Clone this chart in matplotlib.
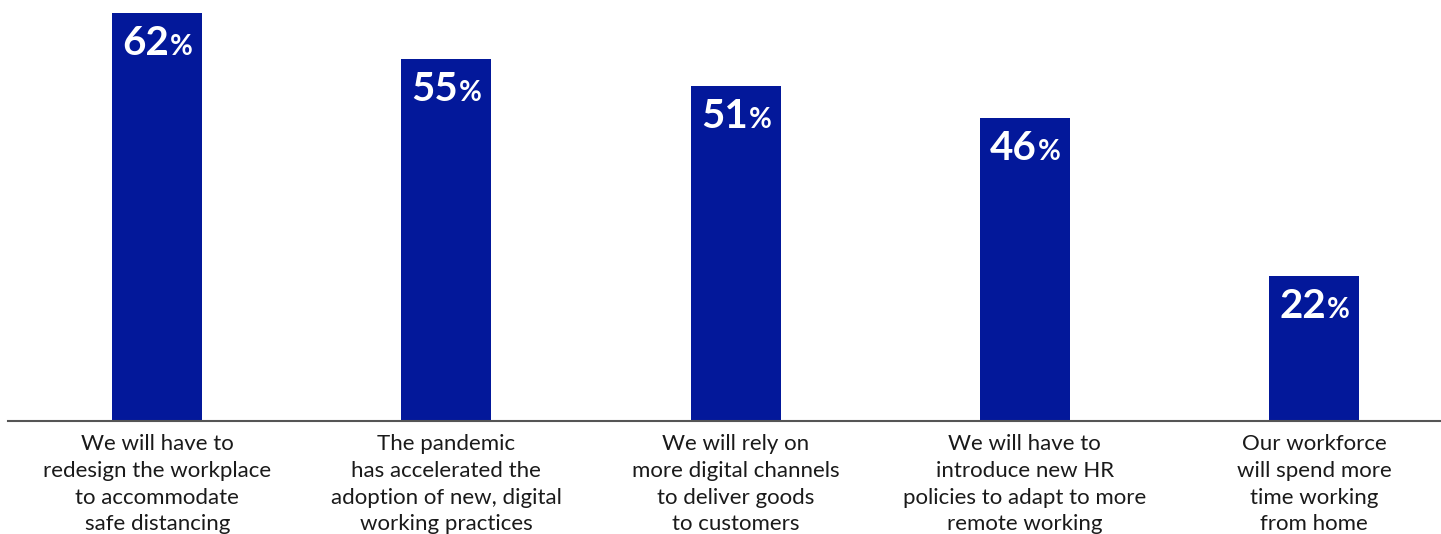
import matplotlib.pyplot as plt
from matplotlib.transforms import offset_copy

BAR_COLOR = "#03189a"

categories = [
    "We will have to\nredesign the workplace\nto accommodate\nsafe distancing",
    "The pandemic\nhas accelerated the\nadoption of new, digital\nworking practices",
    "We will rely on\nmore digital channels\nto deliver goods\nto customers",
    "We will have to\nintroduce new HR\npolicies to adapt to more\nremote working",
    "Our workforce\nwill spend more\ntime working\nfrom home",
]
values = [62, 55, 51, 46, 22]

fig = plt.figure(figsize=(14.41, 5.34), dpi=100)
ax = fig.add_axes([8 / 1441, 113 / 534, 1433 / 1441, 421 / 534])

x = list(range(len(values)))
ax.bar(x, values, width=0.311, color=BAR_COLOR, zorder=2)

ax.set_xlim(-0.516, 4.439)
ax.set_ylim(0, 64.0)
for side in ["top", "right", "left"]:
    ax.spines[side].set_visible(False)
ax.spines["bottom"].set_color("#555555")
ax.spines["bottom"].set_linewidth(1.5)
ax.set_yticks([])
ax.set_xticks([])

# category labels under the baseline
for i, cat in enumerate(categories):
    ax.text(i, 0, cat, transform=offset_copy(ax.transData, fig=fig, x=0, y=-9.5, units="points"),
            ha="center", va="top", fontsize=16, family="Lato", color="#1a1a1a",
            linespacing=1.42)

# value labels: big number followed by a smaller percent sign
fig.canvas.draw()
renderer = fig.canvas.get_renderer()
for i, v in enumerate(values):
    num = ax.text(0, 0, str(v), fontsize=29, family="Lato", weight="bold", color="white")
    pct = ax.text(0, 0, "%", fontsize=20, family="Lato", weight="bold", color="white")
    wn = num.get_window_extent(renderer).width
    wp = pct.get_window_extent(renderer).width
    total = wn + wp
    num.remove()
    pct.remove()
    base = offset_copy(ax.transData, fig=fig, x=-total / 2, y=-42, units="dots")
    ax.text(i, v, str(v), transform=base, ha="left", va="baseline",
            fontsize=29, family="Lato", weight="bold", color="white", zorder=3)
    base2 = offset_copy(ax.transData, fig=fig, x=-total / 2 + wn + 1, y=-42, units="dots")
    ax.text(i, v, "%", transform=base2, ha="left", va="baseline",
            fontsize=20, family="Lato", weight="bold", color="white", zorder=3)

fig.savefig("out.png", dpi=100)
